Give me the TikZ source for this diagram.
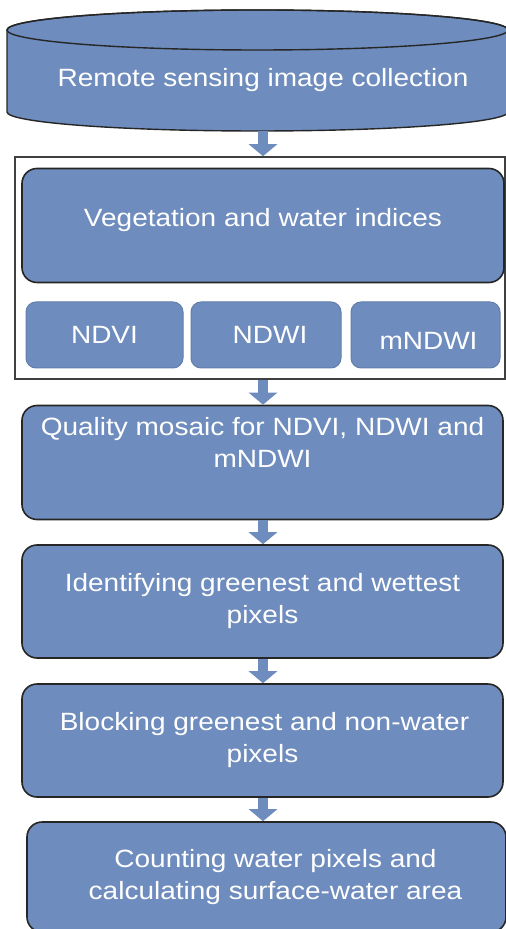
\documentclass[tikz,border=0pt]{standalone}
\usetikzlibrary{arrows.meta, positioning}
\usepackage{xcolor}
\usepackage{fontspec}
\setmainfont[FakeStretch=1.12]{Liberation Sans}
\definecolor{boxblue}{RGB}{110,140,189}
\definecolor{edgeblue}{RGB}{98,126,172}

\begin{document}
\begin{tikzpicture}[x=1pt, y=-1pt, every node/.style={font=\fontsize{12.5}{16}\selectfont, text=white, align=center},
    box/.style={rectangle, rounded corners=7.5pt, draw=black!85, line width=0.8pt, fill=boxblue, minimum width=240.5pt, minimum height=57pt},
    minibox/.style={rectangle, rounded corners=5pt, draw=edgeblue, line width=0.5pt, fill=boxblue, minimum height=33pt},
    frame/.style={rectangle, draw=black!75, line width=0.8pt, fill=white, minimum width=245pt, minimum height=111pt},
    flow/.style={line width=5pt, draw=boxblue, -{Triangle[width=14pt, length=6pt]}}]
    \tikzstyle{txt} = [inner sep=0pt]

    \useasboundingbox (0,0) rectangle (253,464.5);

    % database cylinder
    \filldraw[fill=boxblue, draw=black!85, line width=0.7pt] (3.5,15) -- (3.5,56) arc (180:0:125.25 and 9.5) -- (254,15) arc (0:-180:125.25 and 10) -- cycle;
    \draw[black!85, line width=0.7pt] (128.75,15) ellipse (125.25 and 10);
    \node[txt] (collect) at (131.5,40) {Remote sensing image collection};
    \coordinate (collectbot) at (131.5,65.5);

    % indices group
    \node[frame] (group) at (130,134) {};
    \node[box, minimum width=241pt] (veg) at (131.5,112.75) {\raisebox{2.5pt}[\height][\depth]{Vegetation and water indices}};
    \node[minibox, minimum width=78.5pt] (ndvi) at (52.25,167.5) {NDVI};
    \node[minibox, minimum width=75pt, right=3.5pt of ndvi] (ndwi) {\hspace{4pt}NDWI};
    \node[minibox, minimum width=74.5pt, right=4.5pt of ndwi] (mndwi) {\raisebox{-3pt}[\height][\depth]{\hspace{3pt}mNDWI}};

    % processing steps
    \node[box] (qual) at (131.25,231.25) {};
    \node[txt] (qualtext) at ([yshift=10pt]qual.center) {Quality mosaic for NDVI, NDWI and\\mNDWI};
    \node[box, minimum height=56.5pt] (ident) at (131.25,300.75) {Identifying greenest and wettest\\pixels};
    \node[box, minimum height=56.5pt] (block) at (131.25,370.25) {\hspace{2pt}Blocking greenest and non-water\\pixels};
    \node[box, minimum width=239.5pt, minimum height=55pt] (count) at (133.25,438.5) {\hspace{9pt}Counting water pixels and\\\hspace{9pt}calculating surface-water area};

    \draw[flow] (collectbot) -- (collectbot |- group.north);
    \foreach \a/\b in {group/qual, qual/ident, ident/block, block/count}
        \draw[flow] (\a.south -| collectbot) -- (\b.north -| collectbot);

\end{tikzpicture}
\end{document}
